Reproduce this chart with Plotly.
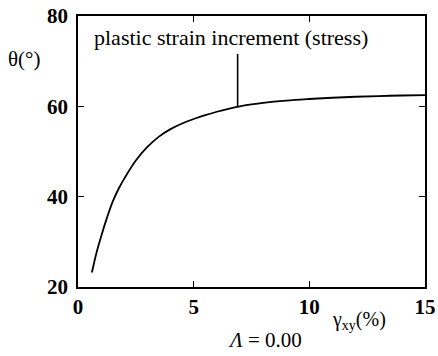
import plotly.graph_objects as go

# data
gamma_xy = [0.6, 0.8, 1.0, 1.25, 1.5, 1.75, 2.0, 2.5, 3.0, 3.5, 4.0, 4.5, 5.0, 5.5, 6.0, 6.5, 7.0, 7.5, 8.0, 9.0, 10.0, 11.0, 12.0, 13.0, 14.0, 15.0]
theta = [23.2, 27.6, 31.2, 35.3, 38.9, 41.7, 44.0, 48.0, 51.0, 53.3, 54.95, 56.2, 57.2, 58.05, 58.8, 59.45, 60.0, 60.42, 60.77, 61.27, 61.62, 61.9, 62.12, 62.28, 62.4, 62.5]

x_ticks = [0, 5, 10, 15]
y_ticks = [20, 40, 60, 80]

callout_text = "plastic strain increment (stress)"
callout_x = 6.9
callout_y0 = 60.0
callout_y1 = 71.6

serif = "Liberation Serif, Times New Roman, serif"

fig = go.Figure()
fig.add_trace(go.Scatter(x=gamma_xy, y=theta, mode="lines",
                         line=dict(color="black", width=1.8, shape="spline", smoothing=1.0),
                         showlegend=False, hoverinfo="skip"))

fig.add_shape(type="line", x0=callout_x, x1=callout_x, y0=callout_y0, y1=callout_y1,
              xref="x", yref="y", line=dict(color="black", width=1.6))

fig.add_annotation(text=callout_text, xref="paper", yref="paper", x=0.04, y=0.975,
                   xanchor="left", yanchor="top", showarrow=False,
                   font=dict(family=serif, size=22, color="black"))

fig.add_annotation(text="θ(°)", xref="paper", yref="paper", x=-0.155, y=0.84,
                   xanchor="center", yanchor="middle", showarrow=False,
                   font=dict(family=serif, size=21, color="black"))

fig.add_annotation(text="γ<sub>xy</sub>(%)", xref="paper", yref="paper", x=0.81, y=-0.125,
                   xanchor="center", yanchor="middle", showarrow=False,
                   font=dict(family=serif, size=20, color="black"))

fig.add_annotation(text="<i>Λ</i> = 0.00", xref="paper", yref="paper", x=0.54, y=-0.195,
                   xanchor="center", yanchor="middle", showarrow=False,
                   font=dict(family=serif, size=21, color="black"))

axis_common = dict(showline=True, linecolor="black", linewidth=1.5, mirror="ticks",
                   ticks="inside", ticklen=6, tickcolor="black", tickwidth=1.3,
                   showgrid=False, zeroline=False, automargin=False,
                   tickfont=dict(family=serif, size=21, color="black", weight="bold"))

fig.update_xaxes(range=[0, 15], tickvals=x_ticks, ticktext=[str(v) for v in x_ticks], **axis_common)
fig.update_yaxes(range=[20, 80], tickvals=y_ticks, ticktext=[str(v) for v in y_ticks],
                 ticklabelstandoff=4, **axis_common)

fig.update_layout(width=438, height=356, margin=dict(l=78, r=13, t=16, b=69),
                  plot_bgcolor="white", paper_bgcolor="white", template="none")

fig.write_html("out.html", config={"displayModeBar": False},
               post_script="document.body.style.margin='0';document.body.style.overflow='hidden';")
